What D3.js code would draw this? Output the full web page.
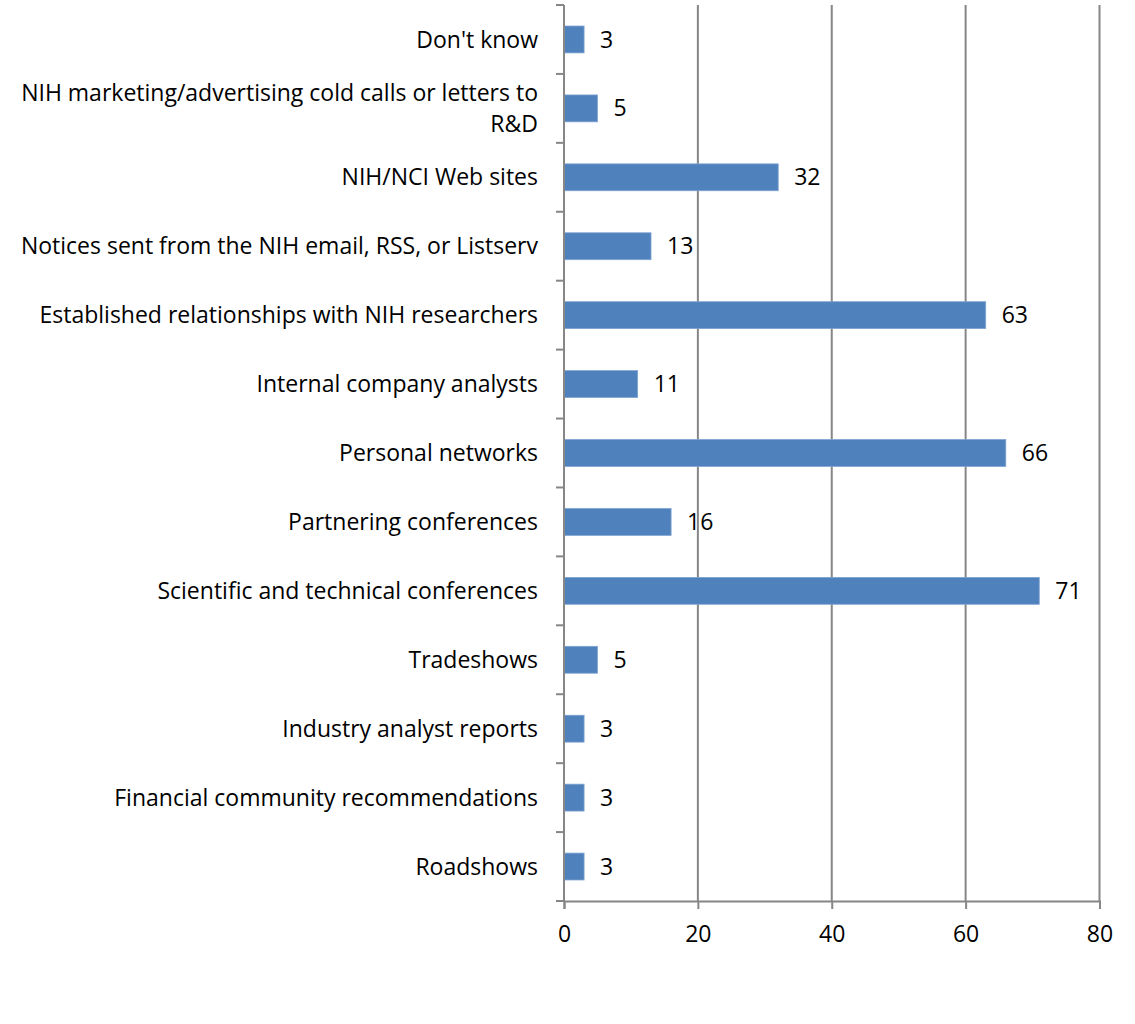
<!DOCTYPE html>
<html>
<head>
<meta charset="utf-8">
<script src="https://cdn.jsdelivr.net/npm/d3@7"></script>
<style>
  html, body { margin: 0; padding: 0; background: #fff; }
  svg { display: block; }
  text { font-family: "Open Sans", "Noto Sans", sans-serif; fill: #000; }
</style>
</head>
<body>
<script>
// Sources of information, listed top to bottom
const categories = [
  "Don't know",
  "NIH marketing/advertising cold calls or letters to R&D",
  "NIH/NCI Web sites",
  "Notices sent from the NIH email, RSS, or Listserv",
  "Established relationships with NIH researchers",
  "Internal company analysts",
  "Personal networks",
  "Partnering conferences",
  "Scientific and technical conferences",
  "Tradeshows",
  "Industry analyst reports",
  "Financial community recommendations",
  "Roadshows"
];
// Wrapped display lines for long category names
const categoryLines = {
  "NIH marketing/advertising cold calls or letters to R&D":
    ["NIH marketing/advertising cold calls or letters to", "R&D"]
};
const values = [3, 5, 32, 13, 63, 11, 66, 16, 71, 5, 3, 3, 3];
const xTicks = [0, 20, 40, 60, 80];

const W = 1135, H = 1024;
const margin = { top: 5, left: 564, right: 35.5, bottom: 123 };
const plotW = W - margin.left - margin.right;
const plotH = H - margin.top - margin.bottom;
const fontSize = "23px";

const svg = d3.select("body").append("svg").attr("width", W).attr("height", H);
const g = svg.append("g").attr("transform", `translate(${margin.left},${margin.top})`);

const x = d3.scaleLinear().domain([0, 80]).range([0, plotW]);
const y = d3.scaleBand().domain(categories).range([0, plotH]).paddingInner(0.61).paddingOuter(0.305);
const yBand = d3.scaleBand().domain(categories).range([0, plotH]);

const gridColor = "#868686";

// Vertical gridlines
g.selectAll("line.grid").data(xTicks.filter(d => d > 0)).join("line")
  .attr("class", "grid")
  .attr("x1", d => x(d)).attr("x2", d => x(d))
  .attr("y1", 0).attr("y2", plotH)
  .attr("stroke", gridColor).attr("stroke-width", 2);

// Bars
g.selectAll("rect.bar").data(categories).join("rect")
  .attr("class", "bar")
  .attr("x", x(0))
  .attr("y", d => y(d))
  .attr("width", (d, i) => x(values[i]) - x(0))
  .attr("height", y.bandwidth())
  .attr("fill", "#4F81BD")
  .attr("stroke", "#7fa3d0").attr("stroke-width", 0.8);

// Value labels
g.selectAll("text.val").data(categories).join("text")
  .attr("class", "val")
  .attr("x", (d, i) => x(values[i]) + 16)
  .attr("y", d => y(d) + y.bandwidth() / 2)
  .attr("dy", "0.35em")
  .style("font-size", fontSize)
  .text((d, i) => values[i]);

// Y axis line and tick marks at band boundaries
g.append("line")
  .attr("x1", 0).attr("x2", 0).attr("y1", 0).attr("y2", plotH)
  .attr("stroke", gridColor).attr("stroke-width", 2);
const boundaries = categories.map(c => yBand(c)).concat([plotH]);
g.selectAll("line.ytick").data(boundaries).join("line")
  .attr("class", "ytick")
  .attr("x1", -8).attr("x2", 0)
  .attr("y1", d => d).attr("y2", d => d)
  .attr("stroke", gridColor).attr("stroke-width", 2);

// Category labels
const labels = g.selectAll("text.cat").data(categories).join("text")
  .attr("class", "cat")
  .attr("text-anchor", "end")
  .style("font-size", fontSize)
  .attr("transform", d => `translate(-26,${yBand(d) + yBand.bandwidth() / 2})`);
labels.each(function(d) {
  const lines = categoryLines[d] || [d];
  const lh = 31;
  const t = d3.select(this);
  lines.forEach((ln, k) => {
    t.append("tspan").attr("x", 0)
      .attr("y", (k - (lines.length - 1) / 2) * lh)
      .attr("dy", "0.35em")
      .text(ln);
  });
});

// X axis
const xAxis = g.append("g").attr("transform", `translate(0,${plotH})`)
  .call(d3.axisBottom(x).tickValues(xTicks).tickSize(8).tickPadding(17).tickFormat(d3.format("d")));
xAxis.select(".domain").attr("stroke", gridColor).attr("stroke-width", 2);
xAxis.selectAll(".tick line").attr("stroke", gridColor).attr("stroke-width", 2);
xAxis.selectAll(".tick text").style("font-size", fontSize).style("font-family", "'Open Sans', sans-serif").attr("fill", "#000");
</script>
</body>
</html>
